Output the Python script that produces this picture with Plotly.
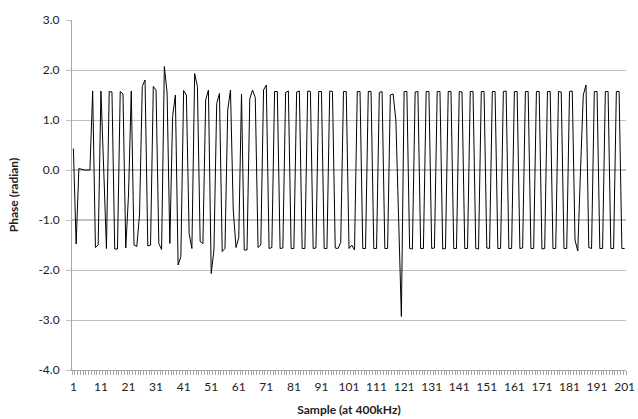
import plotly.graph_objects as go

# Sample index (1..201) and measured phase in radians
samples = list(range(1, 202))
phase = [
    0.43, -1.48, 0.03, 0.01, 0.00, 0.00, 0.00, 1.58, -1.55, -1.50,     # 1-10
    1.58, 0.02, -1.57, 1.57, 1.56, -1.58, -1.58, 1.57, 1.52, -1.56,    # 11-20
    -0.50, 1.58, -1.50, -1.53, -0.90, 1.67, 1.80, -1.52, -1.50, 1.67,  # 21-30
    1.60, -1.47, -1.59, 2.07, 1.55, -1.47, 1.07, 1.50, -1.90, -1.73,   # 31-40
    1.59, 1.50, -1.27, -1.57, 1.93, 1.67, -1.43, -1.47, 1.40, 1.60,    # 41-50
    -2.07, -1.60, 1.33, 1.53, -1.63, -1.57, 1.20, 1.60, -0.80, -1.55,  # 51-60
    -1.35, 1.52, -1.60, -1.60, 1.42, 1.60, 1.45, -1.55, -1.50, 1.60,   # 61-70
    1.70, -1.57, -1.55, 1.57, 1.57, -1.57, -1.56, 1.55, 1.58, -1.57,   # 71-80
    -1.57, 1.56, 1.58, -1.57, -1.57, 1.58, 1.57, -1.57, -1.56, 1.57,   # 81-90
    1.57, -1.57, -1.57, 1.58, 1.57, -1.56, -1.57, -1.45, 1.57, 1.57,   # 91-100
    -1.57, -1.50, -1.60, 1.57, 1.57, -1.57, -1.57, 1.57, 1.57, -1.57,  # 101-110
    -1.57, 1.55, 1.57, -1.57, -1.57, 1.50, 1.52, 1.00, -0.95, -2.93,   # 111-120
    1.57, 1.57, -1.57, -1.58, 1.56, 1.57, -1.57, -1.57, 1.57, 1.57,    # 121-130
    -1.57, -1.56, 1.57, 1.57, -1.58, -1.57, 1.57, 1.57, -1.57, -1.57,  # 131-140
    1.57, 1.56, -1.57, -1.57, 1.57, 1.57, -1.57, -1.58, 1.57, 1.57,    # 141-150
    -1.56, -1.57, 1.57, 1.57, -1.57, -1.57, 1.57, 1.58, -1.57, -1.57,  # 151-160
    1.57, 1.57, -1.57, -1.56, 1.57, 1.57, -1.57, -1.57, 1.57, 1.57,    # 161-170
    -1.58, -1.57, 1.57, 1.57, -1.57, -1.57, 1.57, 1.56, -1.57, -1.57,  # 171-180
    1.57, 1.58, -1.40, -1.62, 0.00, 1.50, 1.70, -1.55, -1.57, 1.57,    # 181-190
    1.57, -1.57, -1.57, 1.57, 1.57, -1.57, -1.57, 1.57, 1.57, -1.57,   # 191-200
    -1.57,                                                              # 201
]

x_tick_vals = [1, 11, 21, 31, 41, 51, 61, 71, 81, 91, 101,
               111, 121, 131, 141, 151, 161, 171, 181, 191, 201]
x_tick_text = [str(v) for v in x_tick_vals]
y_tick_vals = [3, 2, 1, 0, -1, -2, -3, -4]
y_tick_text = ["3.0", "2.0", "1.0", "0.0", "-1.0", "-2.0", "-3.0", "-4.0"]
dark_grid_vals = [0, -1]

FONT = "Lato"
GRID = "#bfbfbf"
AXIS = "#a6a6a6"
X_RANGE = [0.5, 201.5]

fig = go.Figure()
# invisible carrier trace so the category-tick axis (x2) is drawn
fig.add_trace(go.Scatter(
    x=samples, y=phase, mode="lines", xaxis="x2", yaxis="y",
    line=dict(color="rgba(0,0,0,0)", width=0),
    hoverinfo="skip", showlegend=False,
))
fig.add_trace(go.Scatter(
    x=samples, y=phase, mode="lines",
    line=dict(color="black", width=1),
    hoverinfo="x+y", showlegend=False,
))

for v in dark_grid_vals:
    fig.add_shape(type="line", xref="paper", yref="y", x0=0, x1=1, y0=v, y1=v,
                  line=dict(color="#8c8c8c", width=1), layer="below")

fig.update_layout(
    width=638, height=419,
    margin=dict(l=72, r=12, t=20, b=49),
    paper_bgcolor="white", plot_bgcolor="white",
    font=dict(family=FONT, size=12, color="#222222"),
    xaxis=dict(
        range=X_RANGE, automargin=False,
        tickmode="array", tickvals=x_tick_vals, ticktext=x_tick_text,
        ticks="", showgrid=False, zeroline=False,
        showline=True, linecolor=AXIS, linewidth=1,
        ticklabelstandoff=6,
        title=dict(text="<b>Sample (at 400kHz)</b>", font=dict(size=12), standoff=12),
        tickfont=dict(size=12),
    ),
    # category tick marks between every sample (Excel-style)
    xaxis2=dict(
        range=X_RANGE, overlaying="x", anchor="y", side="bottom", automargin=False,
        tickmode="linear", tick0=0.5, dtick=1,
        ticks="outside", ticklen=4, tickcolor=AXIS, tickwidth=1,
        showticklabels=False, showgrid=False, zeroline=False, showline=False,
    ),
    yaxis=dict(
        range=[-4, 3], automargin=False,
        tickmode="array", tickvals=y_tick_vals, ticktext=y_tick_text,
        ticks="outside", ticklen=5, tickcolor=GRID,
        showgrid=True, gridcolor=GRID, gridwidth=1, zeroline=False,
        showline=True, linecolor=AXIS, linewidth=1,
        ticklabelstandoff=4,
        title=dict(text="<b>Phase (radian)</b>", font=dict(size=12), standoff=17),
        tickfont=dict(size=12),
    ),
)

fig.write_html("out.html")
